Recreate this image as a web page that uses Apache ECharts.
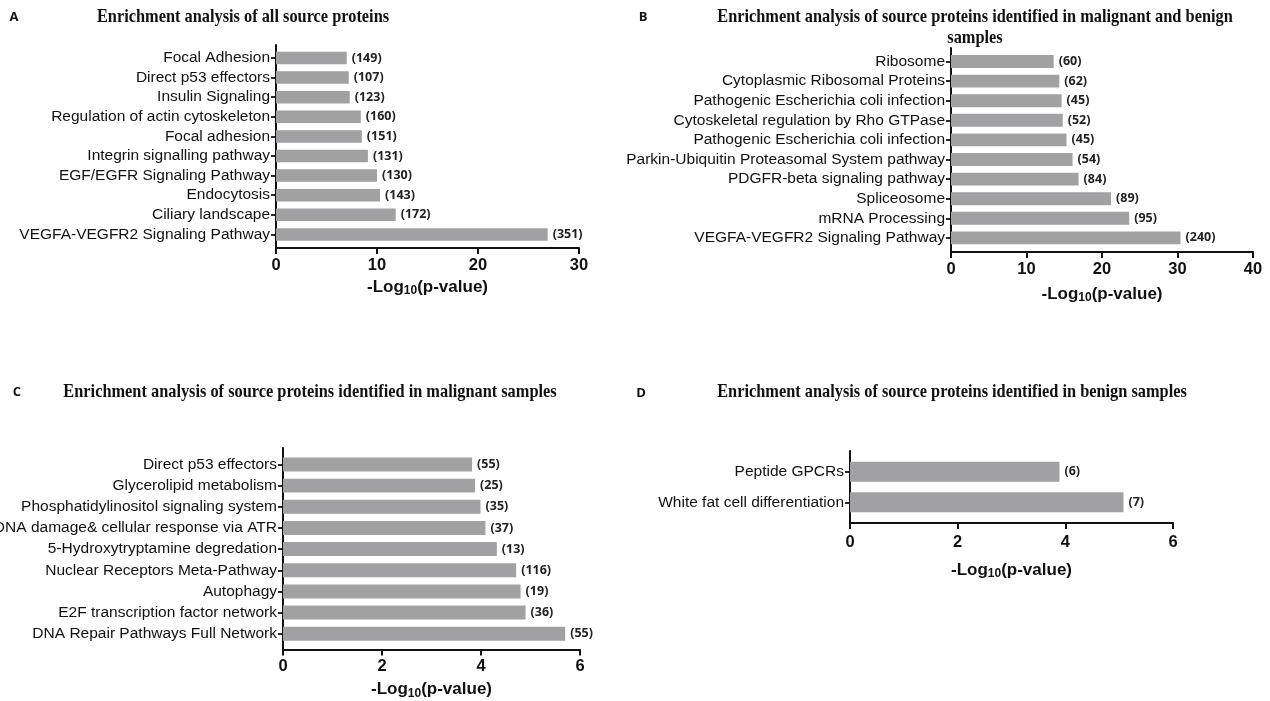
<!DOCTYPE html>
<html>
<head>
<meta charset="utf-8">
<script src="https://cdn.jsdelivr.net/npm/echarts@6/dist/echarts.min.js"></script>
<style>
  html, body { margin: 0; padding: 0; background: #ffffff; }
  #chart { width: 1270px; height: 701px; }
</style>
</head>
<body>
<div id="chart"></div>
<script>
// ---- Panel A: all source proteins ----
const aCategories = [
  'Focal Adhesion', 'Direct p53 effectors', 'Insulin Signaling',
  'Regulation of actin cytoskeleton', 'Focal adhesion', 'Integrin signalling pathway',
  'EGF/EGFR Signaling Pathway', 'Endocytosis', 'Ciliary landscape',
  'VEGFA-VEGFR2 Signaling Pathway'
];
const aValues = [7.0, 7.2, 7.3, 8.4, 8.5, 9.1, 10.0, 10.3, 11.85, 26.9];
const aCounts = [149, 107, 123, 160, 151, 131, 130, 143, 172, 351];
const aRange = [0, 30, 10];

// ---- Panel B: malignant and benign samples ----
const bCategories = [
  'Ribosome', 'Cytoplasmic Ribosomal Proteins', 'Pathogenic Escherichia coli infection',
  'Cytoskeletal regulation by Rho GTPase', 'Pathogenic Escherichia coli infection',
  'Parkin-Ubiquitin Proteasomal System pathway', 'PDGFR-beta signaling pathway',
  'Spliceosome', 'mRNA Processing', 'VEGFA-VEGFR2 Signaling Pathway'
];
const bValues = [13.6, 14.35, 14.65, 14.8, 15.3, 16.1, 16.9, 21.2, 23.6, 30.4];
const bCounts = [60, 62, 45, 52, 45, 54, 84, 89, 95, 240];
const bRange = [0, 40, 10];

// ---- Panel C: malignant samples ----
const cCategories = [
  'Direct p53 effectors', 'Glycerolipid metabolism', 'Phosphatidylinositol signaling system',
  'DNA damage& cellular response via ATR', '5-Hydroxytryptamine degredation',
  'Nuclear Receptors Meta-Pathway', 'Autophagy', 'E2F transcription factor network',
  'DNA Repair Pathways Full Network'
];
const cValues = [3.82, 3.88, 3.99, 4.09, 4.32, 4.71, 4.80, 4.90, 5.70];
const cCounts = [55, 25, 35, 37, 13, 116, 19, 36, 55];
const cRange = [0, 6, 2];

// ---- Panel D: benign samples ----
const dCategories = ['Peptide GPCRs', 'White fat cell differentiation'];
const dValues = [3.89, 5.08];
const dCounts = [6, 7];
const dRange = [0, 6, 2];

// Panel headings
const panelLetters = ['A', 'B', 'C', 'D'];
const panelTitles = [
  ['Enrichment analysis of all source proteins'],
  ['Enrichment analysis of source proteins identified in malignant and benign', 'samples'],
  ['Enrichment analysis of source proteins identified in malignant samples'],
  ['Enrichment analysis of source proteins identified in benign samples']
];
const axisTitle = '{m|-Log}{s|10}{m|(p-value)}';

// Layout of each panel: the outer frame carries the axis lines,
// the inner frame holds the category bands.
const panels = [
  { cats: aCategories, values: aValues, counts: aCounts, range: aRange,
    frame: { left: 276, top: 45, width: 303, height: 203 },
    bands: { top: 48.2, height: 196 }, barWidth: '64%', labelMargin: 9, nameGap: 29,
    letter: [14, 17], title: [243, [17]] },
  { cats: bCategories, values: bValues, counts: bCounts, range: bRange,
    frame: { left: 951, top: 48, width: 302, height: 204 },
    bands: { top: 51.7, height: 196 }, barWidth: '66%', labelMargin: 9, nameGap: 32,
    letter: [643, 17], title: [975, [17, 38]] },
  { cats: cCategories, values: cValues, counts: cCounts, range: cRange,
    frame: { left: 283, top: 448, width: 297, height: 201.5 },
    bands: { top: 453.9, height: 190.4 }, barWidth: '66%', labelMargin: 8, nameGap: 30,
    letter: [17, 392], title: [310, [392]] },
  { cats: dCategories, values: dValues, counts: dCounts, range: dRange,
    frame: { left: 850, top: 451, width: 323, height: 72 },
    bands: { top: 456.4, height: 61.2 }, barWidth: '65%', labelMargin: 11, nameGap: 37,
    letter: [641, 393], title: [952, [392]] }
];

const INK = '#111111';
const BAR = '#a1a1a3';

const grid = [], xAxis = [], yAxis = [], series = [], graphic = [];

panels.forEach((p, i) => {
  const outer = 2 * i, inner = 2 * i + 1;
  const [lo, hi, step] = p.range;

  // fixed frames: long pathway names may run past the page edge
  grid.push({ left: p.frame.left, top: p.frame.top, width: p.frame.width, height: p.frame.height,
              containLabel: false, outerBoundsMode: 'none' });
  grid.push({ left: p.frame.left, top: p.bands.top, width: p.frame.width, height: p.bands.height,
              containLabel: false, outerBoundsMode: 'none' });

  // value axis with ticks, numbers and the -log10 title
  xAxis.push({
    gridIndex: outer, type: 'value', min: lo, max: hi, interval: step,
    axisLine: { show: true, onZero: false, lineStyle: { color: INK, width: 2 } },
    axisTick: { show: true, length: 6, lineStyle: { color: INK, width: 2 } },
    axisLabel: { show: true, margin: p.labelMargin, color: INK, fontFamily: 'Liberation Sans',
                 fontWeight: 'bold', fontSize: 16.5 },
    splitLine: { show: false },
    name: axisTitle, nameLocation: 'middle', nameGap: p.nameGap,
    nameTextStyle: {
      rich: {
        m: { fontFamily: 'Liberation Sans', fontWeight: 'bold', fontSize: 17, color: INK,
             lineHeight: 20, verticalAlign: 'middle' },
        s: { fontFamily: 'Liberation Sans', fontWeight: 'bold', fontSize: 12, color: INK,
             lineHeight: 12, verticalAlign: 'bottom' }
      }
    }
  });
  // plain vertical axis line spanning the whole frame
  yAxis.push({
    gridIndex: outer, type: 'value', min: 0, max: 1,
    axisLine: { show: true, onZero: false, lineStyle: { color: INK, width: 2 } },
    axisTick: { show: false }, axisLabel: { show: false }, splitLine: { show: false }
  });

  // hidden value scale shared by the bars
  xAxis.push({ gridIndex: inner, type: 'value', min: lo, max: hi, show: false });
  // pathway names
  yAxis.push({
    gridIndex: inner, type: 'category', inverse: true, data: p.cats,
    axisLine: { show: false },
    axisTick: { show: true, alignWithLabel: true, length: 5, lineStyle: { color: INK, width: 1.8 } },
    axisLabel: { interval: 0, margin: 6, color: INK, fontFamily: 'Liberation Sans', fontSize: 15.5 },
    splitLine: { show: false }
  });

  series.push({
    type: 'bar', xAxisIndex: inner, yAxisIndex: inner,
    data: p.values, barWidth: p.barWidth,
    itemStyle: { color: BAR },
    label: {
      show: true, position: 'right', distance: 5,
      formatter: (prm) => '(' + p.counts[prm.dataIndex] + ')',
      fontFamily: 'Open Sans', fontWeight: 'bold', fontSize: 12.5, color: '#222222'
    },
    silent: true
  });

  graphic.push({
    type: 'text', x: p.letter[0], y: p.letter[1],
    style: { text: panelLetters[i], font: 'bold 13px "Open Sans"', fill: INK,
             textAlign: 'center', textVerticalAlign: 'middle' }
  });
  panelTitles[i].forEach((line, k) => {
    graphic.push({
      type: 'text', x: p.title[0], y: p.title[1][k], scaleX: 0.86,
      style: { text: line, font: 'bold 19px "Liberation Serif"', fill: INK,
               textAlign: 'center', textVerticalAlign: 'middle' }
    });
  });
});

const chart = echarts.init(document.getElementById('chart'), null, { renderer: 'canvas' });
chart.setOption({
  backgroundColor: '#ffffff',
  animation: false,
  grid, xAxis, yAxis, series, graphic
});
</script>
</body>
</html>
